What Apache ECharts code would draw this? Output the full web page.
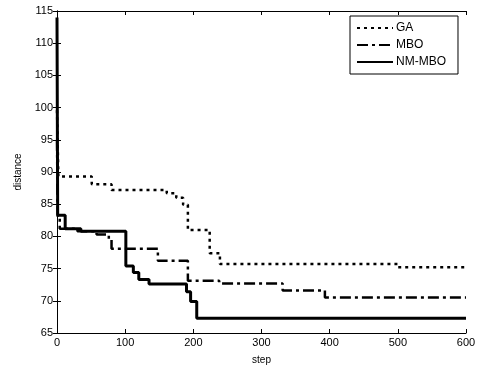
<!DOCTYPE html>
<html>
<head>
<meta charset="utf-8">
<script src="https://cdn.jsdelivr.net/npm/echarts@6/dist/echarts.min.js"></script>
<style>
  html, body { margin: 0; padding: 0; background: #fff; }
  #main { width: 482px; height: 371px; }
</style>
</head>
<body>
<div id="main"></div>
<script>
// step at which each value starts
const gaStep = [0, 2, 51, 80, 161, 175, 185, 192, 224, 239, 500, 600]
const gaDist = [99.6, 89.3, 88.1, 87.2, 86.7, 86.0, 84.9, 81.0, 77.4, 75.7, 75.2, 75.2]

const mboStep = [0, 1, 4, 30, 58, 76, 80, 148, 192, 238, 331, 393, 600]
const mboDist = [95, 82.8, 81.2, 80.8, 80.3, 79.6, 78.1, 76.2, 73.1, 72.7, 71.6, 70.5, 70.5]

const nmStep = [0, 1, 12, 35, 101, 112, 120, 135, 190, 196, 205, 600]
const nmDist = [114, 83.3, 81.2, 80.8, 75.4, 74.4, 73.3, 72.6, 71.4, 69.9, 67.3, 67.3]

const xTicks = [0, 100, 200, 300, 400, 500, 600]
const yTicks = [65, 70, 75, 80, 85, 90, 95, 100, 105, 110, 115]

const font = 'Liberation Sans'

function pairs(xs, ys) {
  return xs.map((x, i) => [x, ys[i]])
}

const myChart = echarts.init(document.getElementById('main'))

const tickIn = { inside: true, length: 4, lineStyle: { color: '#000' } }

myChart.setOption({
  backgroundColor: '#fff',
  animation: false,
  textStyle: { fontFamily: font },
  grid: { left: 57, top: 11, right: 16, bottom: 38 },
  legend: {
    orient: 'vertical',
    left: 350,
    top: 16,
    padding: [6, 12, 6, 6],
    itemGap: 5,
    itemWidth: 36,
    itemHeight: 13,
    borderColor: '#000',
    borderWidth: 1,
    backgroundColor: '#fff',
    itemStyle: { opacity: 0 },
    textStyle: { fontSize: 12, color: '#000', fontFamily: font, padding: [0, 0, 0, -2] },
    data: ['GA', 'MBO', 'NM-MBO']
  },
  xAxis: [{
    type: 'value',
    min: 0,
    max: 600,
    interval: 100,
    name: 'step',
    nameLocation: 'middle',
    nameGap: 22,
    nameTextStyle: { fontSize: 10, color: '#000' },
    axisLine: { lineStyle: { color: '#000' } },
    axisTick: tickIn,
    axisLabel: { fontSize: 11, color: '#000', margin: 4 },
    splitLine: { show: false }
  }, {
    type: 'value',
    position: 'top',
    min: 0,
    max: 600,
    interval: 100,
    axisLine: { show: true, lineStyle: { color: '#000' } },
    axisTick: tickIn,
    axisLabel: { show: false },
    splitLine: { show: false }
  }],
  yAxis: [{
    type: 'value',
    min: 65,
    max: 115,
    interval: 5,
    name: 'distance',
    nameLocation: 'middle',
    nameGap: 34,
    nameTextStyle: { fontSize: 10, color: '#000' },
    axisLine: { show: true, lineStyle: { color: '#000' } },
    axisTick: tickIn,
    axisLabel: { fontSize: 11, color: '#000', margin: 4 },
    splitLine: { show: false }
  }, {
    type: 'value',
    position: 'right',
    min: 65,
    max: 115,
    interval: 5,
    axisLine: { show: true, lineStyle: { color: '#000' } },
    axisTick: tickIn,
    axisLabel: { show: false },
    splitLine: { show: false }
  }],
  series: [{
    name: 'GA',
    type: 'line',
    step: 'end',
    showSymbol: false,
    symbol: 'none',
    color: '#000',
    lineStyle: { color: '#000', width: 2.5, type: [3, 4] },
    data: pairs(gaStep, gaDist)
  }, {
    name: 'MBO',
    type: 'line',
    step: 'end',
    showSymbol: false,
    symbol: 'none',
    color: '#000',
    lineStyle: { color: '#000', width: 2.5, type: [11, 4, 3, 4] },
    data: pairs(mboStep, mboDist)
  }, {
    name: 'NM-MBO',
    type: 'line',
    step: 'end',
    showSymbol: false,
    symbol: 'none',
    color: '#000',
    lineStyle: { color: '#000', width: 3 },
    data: pairs(nmStep, nmDist)
  }]
})

window.addEventListener('resize', function() {
  myChart.resize()
})
</script>
</body>
</html>
